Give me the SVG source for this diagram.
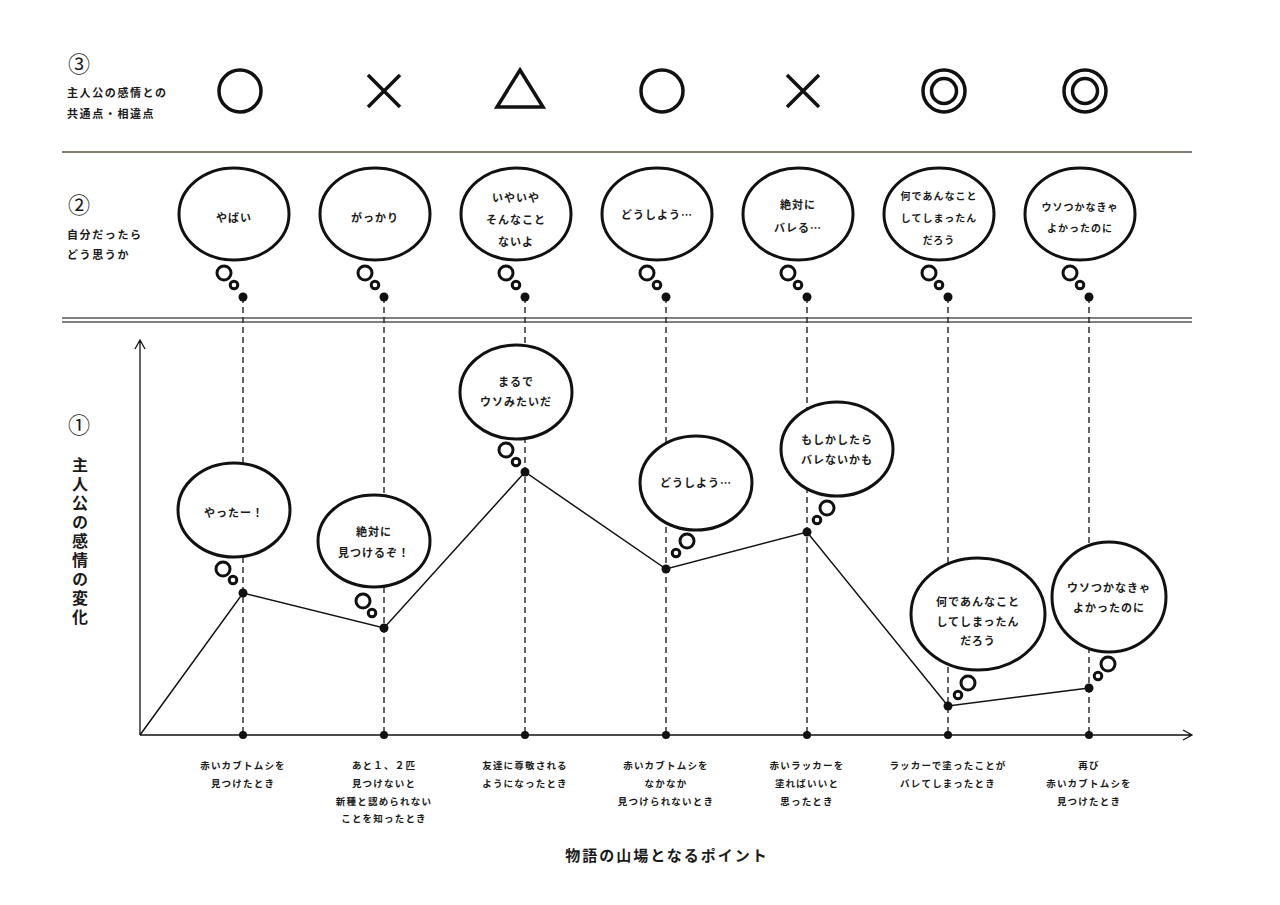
<svg xmlns="http://www.w3.org/2000/svg" width="1280" height="905" viewBox="0 0 1280 905">
<style>
text{font-family:"Noto Sans CJK JP","Noto Sans",sans-serif;font-weight:700;fill:#1a1a1a;text-anchor:middle}
.b{fill:#fff;stroke:#111;stroke-width:3}
.s{fill:none;stroke:#111;stroke-width:3}
.dot{fill:#111}
.bt{font-size:11px;letter-spacing:1px}
.lb{font-size:9.5px;letter-spacing:1.2px}
.lt{font-size:11px;letter-spacing:1.6px;text-anchor:start}
.num{font-size:22px;font-weight:400;text-anchor:start}
.dash{stroke:#222;stroke-width:1.4;stroke-dasharray:6 4;fill:none}
.sym{fill:none;stroke:#111;stroke-width:3.5}
</style>
<rect width="1280" height="905" fill="#fff"/>

<g id="labels">
<text class="num" x="68" y="72">③</text>
<text class="lt" x="67" y="97">主人公の感情との</text>
<text class="lt" x="67" y="118">共通点・相違点</text>
<text class="num" x="68" y="213">②</text>
<text class="lt" x="67" y="239">自分だったら</text>
<text class="lt" x="67" y="259">どう思うか</text>
<text class="num" x="68" y="433">①</text>
<text x="80" y="457" style="font-size:16px;letter-spacing:3px;writing-mode:vertical-rl;text-anchor:start">主人公の感情の変化</text>
<text x="667" y="861" style="font-size:15px;letter-spacing:2px">物語の山場となるポイント</text>
</g>

<g id="dividers">
<line x1="62" y1="152" x2="1192" y2="152" stroke="#5a5246" stroke-width="1.5"/>
<line x1="62" y1="318" x2="1192" y2="318" stroke="#555" stroke-width="1.5"/>
<line x1="62" y1="322" x2="1192" y2="322" stroke="#555" stroke-width="1.5"/>
</g>

<g id="symbols">
<circle class="sym" cx="240" cy="91" r="21"/>
<path class="sym" d="M368 75L400 107M400 75L368 107"/>
<path class="sym" d="M520 70L543 107H497Z"/>
<circle class="sym" cx="662" cy="91" r="21"/>
<path class="sym" d="M787 75L819 107M819 75L787 107"/>
<circle class="sym" cx="944" cy="91" r="21"/><circle class="sym" cx="944" cy="91" r="12.5"/>
<circle class="sym" cx="1085" cy="91" r="21"/><circle class="sym" cx="1085" cy="91" r="12.5"/>
</g>

<g id="connectors">
<path class="dash" d="M243 297V735M384 297V735M525 297V735M666 297V735M807 297V735M948 297V735M1089 297V735"/>
<path d="M140 735V340M135 349L140 340L145 349" fill="none" stroke="#111" stroke-width="1.3"/>
<path d="M140 735H1192M1183 730L1192 735L1183 740" fill="none" stroke="#111" stroke-width="1.3"/>
<polyline points="140,735 243,593 384,628 525,472 666,569 807,532 948,706 1089,688" fill="none" stroke="#111" stroke-width="1.5"/>
<g class="dot">
<circle cx="243" cy="735" r="4"/><circle cx="384" cy="735" r="4"/><circle cx="525" cy="735" r="4"/><circle cx="666" cy="735" r="4"/><circle cx="807" cy="735" r="4"/><circle cx="948" cy="735" r="4"/><circle cx="1089" cy="735" r="4"/>
<circle cx="243" cy="593" r="4.5"/><circle cx="384" cy="628" r="4.5"/><circle cx="525" cy="472" r="4.5"/><circle cx="666" cy="569" r="4.5"/><circle cx="807" cy="532" r="4.5"/><circle cx="948" cy="706" r="4.5"/><circle cx="1089" cy="688" r="4.5"/>
</g>
</g>

<!-- Row 2 bubbles -->
<g id="r2b1"><ellipse class="b" cx="234" cy="214" rx="55" ry="46"/><circle class="s" cx="224" cy="273" r="7"/><circle class="s" cx="234" cy="285" r="3.8"/><circle class="dot" cx="243" cy="297" r="4.5"/>
<text class="bt" x="234" y="222">やばい</text></g>
<g id="r2b2"><ellipse class="b" cx="375" cy="214" rx="55" ry="46"/><circle class="s" cx="365" cy="273" r="7"/><circle class="s" cx="375" cy="285" r="3.8"/><circle class="dot" cx="384" cy="297" r="4.5"/>
<text class="bt" x="375" y="222">がっかり</text></g>
<g id="r2b3"><ellipse class="b" cx="516" cy="214" rx="55" ry="46"/><circle class="s" cx="506" cy="273" r="7"/><circle class="s" cx="516" cy="285" r="3.8"/><circle class="dot" cx="525" cy="297" r="4.5"/>
<text class="bt" x="516" y="202">いやいや</text><text class="bt" x="516" y="224">そんなこと</text><text class="bt" x="516" y="246">ないよ</text></g>
<g id="r2b4"><ellipse class="b" cx="657" cy="214" rx="55" ry="46"/><circle class="s" cx="647" cy="273" r="7"/><circle class="s" cx="657" cy="285" r="3.8"/><circle class="dot" cx="666" cy="297" r="4.5"/>
<text class="bt" x="657" y="219">どうしよう…</text></g>
<g id="r2b5"><ellipse class="b" cx="798" cy="214" rx="55" ry="46"/><circle class="s" cx="788" cy="273" r="7"/><circle class="s" cx="798" cy="285" r="3.8"/><circle class="dot" cx="807" cy="297" r="4.5"/>
<text class="bt" x="798" y="209">絶対に</text><text class="bt" x="798" y="232">バレる…</text></g>
<g id="r2b6"><ellipse class="b" cx="939" cy="214" rx="55" ry="46"/><circle class="s" cx="929" cy="273" r="7"/><circle class="s" cx="939" cy="285" r="3.8"/><circle class="dot" cx="948" cy="297" r="4.5"/>
<text class="bt" x="939" y="200" style="font-size:10px">何であんなこと</text><text class="bt" x="939" y="222" style="font-size:10px">してしまったん</text><text class="bt" x="939" y="244" style="font-size:10px">だろう</text></g>
<g id="r2b7"><ellipse class="b" cx="1080" cy="214" rx="55" ry="46"/><circle class="s" cx="1070" cy="273" r="7"/><circle class="s" cx="1080" cy="285" r="3.8"/><circle class="dot" cx="1089" cy="297" r="4.5"/>
<text class="bt" x="1080" y="211" style="font-size:10px">ウソつかなきゃ</text><text class="bt" x="1080" y="232" style="font-size:10px">よかったのに</text></g>

<!-- Graph bubbles -->
<g id="g1"><ellipse class="b" cx="234" cy="510" rx="56" ry="47"/><circle class="s" cx="223" cy="569" r="7"/><circle class="s" cx="233" cy="580" r="3.8"/>
<text class="bt" x="234" y="517">やったー！</text></g>
<g id="g2"><ellipse class="b" cx="374" cy="541" rx="56" ry="46"/><circle class="s" cx="363" cy="601" r="7"/><circle class="s" cx="372" cy="613" r="3.8"/>
<text class="bt" x="374" y="536">絶対に</text><text class="bt" x="374" y="557">見つけるぞ！</text></g>
<g id="g3"><ellipse class="b" cx="516" cy="392" rx="56" ry="47"/><circle class="s" cx="506" cy="450" r="7"/><circle class="s" cx="516" cy="462" r="3.8"/>
<text class="bt" x="516" y="386">まるで</text><text class="bt" x="516" y="406">ウソみたいだ</text></g>
<g id="g4"><ellipse class="b" cx="696" cy="483" rx="56" ry="47"/><circle class="s" cx="687" cy="541" r="7"/><circle class="s" cx="676" cy="553" r="3.8"/>
<text class="bt" x="696" y="487">どうしよう…</text></g>
<g id="g5"><ellipse class="b" cx="837" cy="449" rx="56" ry="47"/><circle class="s" cx="827" cy="508" r="7"/><circle class="s" cx="817" cy="520" r="3.8"/>
<text class="bt" x="837" y="444">もしかしたら</text><text class="bt" x="837" y="464">バレないかも</text></g>
<g id="g6"><ellipse class="b" cx="978" cy="614" rx="67" ry="56"/><circle class="s" cx="968" cy="683" r="7"/><circle class="s" cx="958" cy="695" r="3.8"/>
<text class="bt" x="978" y="606">何であんなこと</text><text class="bt" x="978" y="626">してしまったん</text><text class="bt" x="978" y="645">だろう</text></g>
<g id="g7"><ellipse class="b" cx="1109" cy="597" rx="57" ry="55"/><circle class="s" cx="1108" cy="664" r="7"/><circle class="s" cx="1098" cy="676" r="3.8"/>
<text class="bt" x="1109" y="592">ウソつかなきゃ</text><text class="bt" x="1109" y="612">よかったのに</text></g>

<!-- bottom labels -->
<g id="x1"><text class="lb" x="243" y="769">赤いカブトムシを</text><text class="lb" x="243" y="787">見つけたとき</text></g>
<g id="x2"><text class="lb" x="384" y="769">あと１、２匹</text><text class="lb" x="384" y="787">見つけないと</text><text class="lb" x="384" y="805">新種と認められない</text><text class="lb" x="384" y="822">ことを知ったとき</text></g>
<g id="x3"><text class="lb" x="525" y="769">友達に尊敬される</text><text class="lb" x="525" y="787">ようになったとき</text></g>
<g id="x4"><text class="lb" x="666" y="769">赤いカブトムシを</text><text class="lb" x="666" y="787">なかなか</text><text class="lb" x="666" y="805">見つけられないとき</text></g>
<g id="x5"><text class="lb" x="807" y="769">赤いラッカーを</text><text class="lb" x="807" y="787">塗ればいいと</text><text class="lb" x="807" y="805">思ったとき</text></g>
<g id="x6"><text class="lb" x="948" y="769">ラッカーで塗ったことが</text><text class="lb" x="948" y="787">バレてしまったとき</text></g>
<g id="x7"><text class="lb" x="1089" y="769">再び</text><text class="lb" x="1089" y="787">赤いカブトムシを</text><text class="lb" x="1089" y="805">見つけたとき</text></g>
</svg>
